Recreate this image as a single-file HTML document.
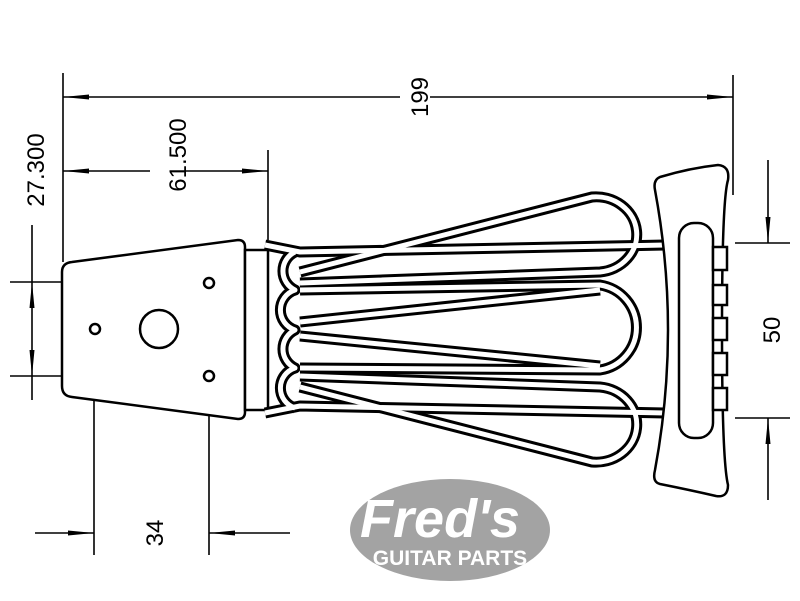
<!DOCTYPE html>
<html><head><meta charset="utf-8"><style>
html,body{margin:0;padding:0;background:#fff;}
svg{display:block;}
text{font-family:"Liberation Sans",sans-serif;}
</style></head><body>
<svg width="800" height="601" viewBox="0 0 800 601" xmlns="http://www.w3.org/2000/svg">
<defs>
<marker id="a" markerWidth="26" markerHeight="8" refX="26" refY="4" orient="auto" markerUnits="userSpaceOnUse">
<path d="M0,1.5 L26,4 L0,6.5 Z" fill="#000"/></marker>
</defs>
<g stroke="#000" stroke-width="1.6" fill="none">
<line x1="63" y1="73" x2="63" y2="262"/>
<line x1="733" y1="75" x2="733" y2="195"/>
<line x1="268" y1="150" x2="268" y2="240"/>
<line x1="10" y1="282" x2="205" y2="282"/>
<line x1="10" y1="376" x2="205" y2="376"/>
<line x1="94" y1="335" x2="94" y2="555"/>
<line x1="209" y1="381" x2="209" y2="555"/>
<line x1="735" y1="243" x2="790" y2="243"/>
<line x1="735" y1="418" x2="790" y2="418"/>
<line x1="400" y1="97" x2="63" y2="97" marker-end="url(#a)"/>
<line x1="430" y1="97" x2="733" y2="97" marker-end="url(#a)"/>
<line x1="150" y1="171" x2="63" y2="171" marker-end="url(#a)"/>
<line x1="185" y1="171" x2="268" y2="171" marker-end="url(#a)"/>
<line x1="32" y1="225" x2="32" y2="282" />
<line x1="32" y1="329" x2="32" y2="282" marker-end="url(#a)"/>
<line x1="32" y1="329" x2="32" y2="376" marker-end="url(#a)"/>
<line x1="32" y1="376" x2="32" y2="400"/>
<line x1="35" y1="533" x2="94" y2="533" marker-end="url(#a)"/>
<line x1="290" y1="533" x2="209" y2="533" marker-end="url(#a)"/>
<line x1="768" y1="160" x2="768" y2="243" marker-end="url(#a)"/>
<line x1="768" y1="500" x2="768" y2="418" marker-end="url(#a)"/>
</g>
<g font-size="24" fill="#000">
<text transform="translate(420,97) rotate(-90)" text-anchor="middle" dy="8">199</text>
<text transform="translate(178,155) rotate(-90)" text-anchor="middle" dy="8">61.500</text>
<text transform="translate(36,170) rotate(-90)" text-anchor="middle" dy="8">27.300</text>
<text transform="translate(155,533) rotate(-90)" text-anchor="middle" dy="8">34</text>
<text transform="translate(772,330) rotate(-90)" text-anchor="middle" dy="8">50</text>
</g>
<g stroke="#000" stroke-width="2.5" fill="#fff">
<path d="M72,262 L238,240 Q245,240 245,247 L245,412 Q245,419 238,419 L72,397 Q62,396 62,386 L62,272 Q62,263 72,262 Z"/>
<rect x="245" y="250" width="23" height="160"/>
<circle cx="209" cy="283" r="5"/>
<circle cx="209" cy="376" r="5"/>
<circle cx="95" cy="329" r="5"/>
<circle cx="159" cy="329" r="19"/>
</g>
<g fill="none" stroke="#000" stroke-width="11" stroke-linejoin="round">
<path d="M300,272 L592,197 A40,37 0 0 1 600,272 L300,283"/>
<path d="M300,387 L592,462 A40,37 0 0 0 600,387 L300,376"/>
<path d="M300,290 L600,285 A43,43 0 0 1 600,370 L300,368"/>
<path d="M300,322 L600,290 M300,336 L600,366"/>
<path d="M265,245 L300,252 L665,245"/>
<path d="M265,413 L300,406 L665,413"/>
<path d="M295,252 A21,21 0 0 0 295,290 A21,21 0 0 0 295,330 A21,21 0 0 0 295,368 A21,21 0 0 0 295,408"/>
</g>
<g fill="none" stroke="#fff" stroke-width="5" stroke-linejoin="round">
<path d="M300,272 L592,197 A40,37 0 0 1 600,272 L300,283"/>
<path d="M300,387 L592,462 A40,37 0 0 0 600,387 L300,376"/>
<path d="M300,290 L600,285 A43,43 0 0 1 600,370 L300,368"/>
<path d="M300,322 L600,290 M300,336 L600,366"/>
<path d="M265,245 L300,252 L665,245"/>
<path d="M265,413 L300,406 L665,413"/>
<path d="M295,252 A21,21 0 0 0 295,290 A21,21 0 0 0 295,330 A21,21 0 0 0 295,368 A21,21 0 0 0 295,408"/>
</g>
<g stroke="#000" stroke-width="2.5" fill="#fff">
<path d="M660,177 Q690,168 718,165 Q730,166 728,180 Q722,200 722,330 Q722,460 728,485 Q728,498 716,496 Q690,490 660,484 Q652,482 655,470 Q668,400 668,330 Q668,260 655,190 Q653,180 660,177 Z"/>
<rect x="679" y="223" width="34" height="215" rx="15"/>
<rect x="713" y="247" width="14" height="23"/>
<rect x="713" y="285" width="14" height="20"/>
<rect x="713" y="318" width="14" height="22"/>
<rect x="713" y="353" width="14" height="22"/>
<rect x="713" y="388" width="14" height="22"/>
</g>
<ellipse cx="450" cy="530" rx="100" ry="51" fill="#a3a3a3"/>
<text x="440" y="537" text-anchor="middle" font-family="Liberation Serif,serif" font-style="italic" font-weight="bold" font-size="54" fill="#fff">Fred's</text>
<text x="450" y="565" text-anchor="middle" font-size="21" font-weight="bold" fill="#fff">GUITAR PARTS</text>
</svg>
</body></html>
